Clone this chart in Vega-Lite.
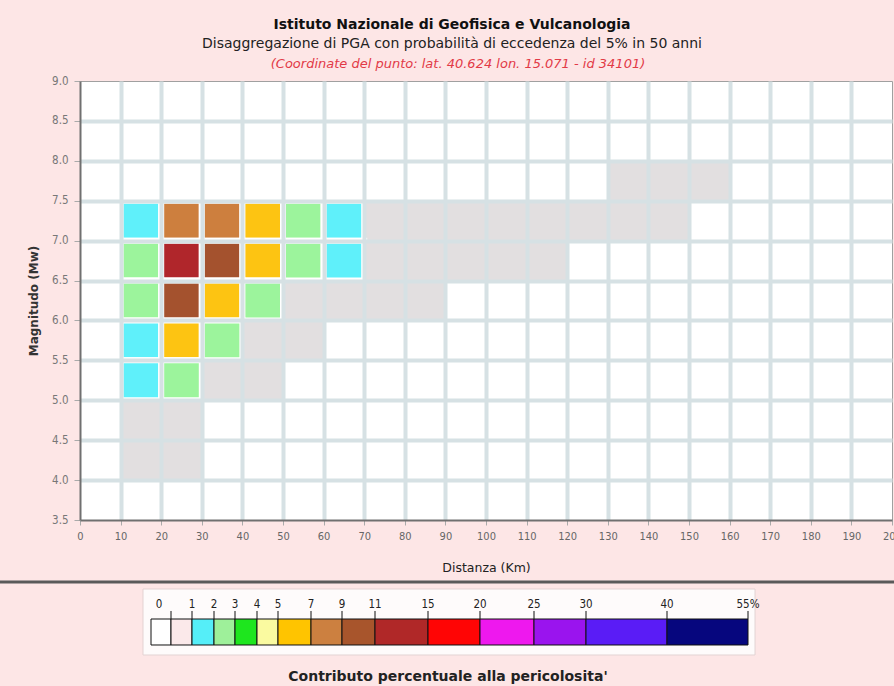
{
  "$schema": "https://vega.github.io/schema/vega-lite/v6.json",
  "autosize": {"type": "none"},
  "padding": {"left": 80, "top": 81, "right": 814, "bottom": 605},
  "background": "#fde6e6",
  "config": {"font": "DejaVu Sans", "view": {"stroke": null}},
  "title": {
    "text": "Istituto Nazionale di Geofisica e Vulcanologia",
    "subtitle": "Disaggregazione di PGA con probabilità di eccedenza del 5% in 50 anni",
    "anchor": "middle", "frame": "group", "dx": -34,
    "font": "DejaVu Sans", "fontSize": 14, "fontWeight": "bold", "color": "#111111",
    "subtitleFont": "DejaVu Sans", "subtitleFontSize": 14, "subtitleColor": "#222222", "subtitlePadding": 5,
    "offset": 7
  },
  "bounds": "flush",
  "spacing": 62,
  "resolve": {"scale": {"color": "independent", "x": "independent", "y": "independent"}},
  "datasets": {
    "cells": [
      {"d": 130, "d2": 140, "m": 7.5, "m2": 8.0, "p": 0.1},
      {"d": 140, "d2": 150, "m": 7.5, "m2": 8.0, "p": 0.1},
      {"d": 150, "d2": 160, "m": 7.5, "m2": 8.0, "p": 0.1},
      {"d": 10, "d2": 20, "m": 7.0, "m2": 7.5, "p": 1.4},
      {"d": 20, "d2": 30, "m": 7.0, "m2": 7.5, "p": 7.3},
      {"d": 30, "d2": 40, "m": 7.0, "m2": 7.5, "p": 7.1},
      {"d": 40, "d2": 50, "m": 7.0, "m2": 7.5, "p": 5.3},
      {"d": 50, "d2": 60, "m": 7.0, "m2": 7.5, "p": 2.2},
      {"d": 60, "d2": 70, "m": 7.0, "m2": 7.5, "p": 1.2},
      {"d": 70, "d2": 80, "m": 7.0, "m2": 7.5, "p": 0.8},
      {"d": 80, "d2": 90, "m": 7.0, "m2": 7.5, "p": 0.7},
      {"d": 90, "d2": 100, "m": 7.0, "m2": 7.5, "p": 0.6},
      {"d": 100, "d2": 110, "m": 7.0, "m2": 7.5, "p": 0.5},
      {"d": 110, "d2": 120, "m": 7.0, "m2": 7.5, "p": 0.4},
      {"d": 120, "d2": 130, "m": 7.0, "m2": 7.5, "p": 0.3},
      {"d": 130, "d2": 140, "m": 7.0, "m2": 7.5, "p": 0.2},
      {"d": 140, "d2": 150, "m": 7.0, "m2": 7.5, "p": 0.1},
      {"d": 10, "d2": 20, "m": 6.5, "m2": 7.0, "p": 2.3},
      {"d": 20, "d2": 30, "m": 6.5, "m2": 7.0, "p": 11.8},
      {"d": 30, "d2": 40, "m": 6.5, "m2": 7.0, "p": 9.4},
      {"d": 40, "d2": 50, "m": 6.5, "m2": 7.0, "p": 5.4},
      {"d": 50, "d2": 60, "m": 6.5, "m2": 7.0, "p": 2.1},
      {"d": 60, "d2": 70, "m": 6.5, "m2": 7.0, "p": 1.1},
      {"d": 70, "d2": 80, "m": 6.5, "m2": 7.0, "p": 0.8},
      {"d": 80, "d2": 90, "m": 6.5, "m2": 7.0, "p": 0.6},
      {"d": 90, "d2": 100, "m": 6.5, "m2": 7.0, "p": 0.4},
      {"d": 100, "d2": 110, "m": 6.5, "m2": 7.0, "p": 0.3},
      {"d": 110, "d2": 120, "m": 6.5, "m2": 7.0, "p": 0.1},
      {"d": 10, "d2": 20, "m": 6.0, "m2": 6.5, "p": 2.1},
      {"d": 20, "d2": 30, "m": 6.0, "m2": 6.5, "p": 9.2},
      {"d": 30, "d2": 40, "m": 6.0, "m2": 6.5, "p": 5.6},
      {"d": 40, "d2": 50, "m": 6.0, "m2": 6.5, "p": 2.0},
      {"d": 50, "d2": 60, "m": 6.0, "m2": 6.5, "p": 0.8},
      {"d": 60, "d2": 70, "m": 6.0, "m2": 6.5, "p": 0.5},
      {"d": 70, "d2": 80, "m": 6.0, "m2": 6.5, "p": 0.3},
      {"d": 80, "d2": 90, "m": 6.0, "m2": 6.5, "p": 0.1},
      {"d": 10, "d2": 20, "m": 5.5, "m2": 6.0, "p": 1.6},
      {"d": 20, "d2": 30, "m": 5.5, "m2": 6.0, "p": 5.1},
      {"d": 30, "d2": 40, "m": 5.5, "m2": 6.0, "p": 2.1},
      {"d": 40, "d2": 50, "m": 5.5, "m2": 6.0, "p": 0.7},
      {"d": 50, "d2": 60, "m": 5.5, "m2": 6.0, "p": 0.3},
      {"d": 10, "d2": 20, "m": 5.0, "m2": 5.5, "p": 1.3},
      {"d": 20, "d2": 30, "m": 5.0, "m2": 5.5, "p": 2.0},
      {"d": 30, "d2": 40, "m": 5.0, "m2": 5.5, "p": 0.6},
      {"d": 40, "d2": 50, "m": 5.0, "m2": 5.5, "p": 0.2},
      {"d": 10, "d2": 20, "m": 4.5, "m2": 5.0, "p": 0.5},
      {"d": 20, "d2": 30, "m": 4.5, "m2": 5.0, "p": 0.3},
      {"d": 10, "d2": 20, "m": 4.0, "m2": 4.5, "p": 0.2},
      {"d": 20, "d2": 30, "m": 4.0, "m2": 4.5, "p": 0.1}
    ],
    "seg": [
      {"lo": -1, "hi": 0, "c": "0"},
      {"lo": 0, "hi": 1, "c": "0-1"},
      {"lo": 1, "hi": 2, "c": "1-2"},
      {"lo": 2, "hi": 3, "c": "2-3"},
      {"lo": 3, "hi": 4, "c": "3-4"},
      {"lo": 4, "hi": 5, "c": "4-5"},
      {"lo": 5, "hi": 7, "c": "5-7"},
      {"lo": 7, "hi": 9, "c": "7-9"},
      {"lo": 9, "hi": 11, "c": "9-11"},
      {"lo": 11, "hi": 15, "c": "11-15"},
      {"lo": 15, "hi": 20, "c": "15-20"},
      {"lo": 20, "hi": 25, "c": "20-25"},
      {"lo": 25, "hi": 30, "c": "25-30"},
      {"lo": 30, "hi": 40, "c": "30-40"},
      {"lo": 40, "hi": 55, "c": "40-55"}
    ],
    "ticks": [
      {"v": 0, "t": "0"}, {"v": 1, "t": "1"}, {"v": 2, "t": "2"}, {"v": 3, "t": "3"},
      {"v": 4, "t": "4"}, {"v": 5, "t": "5"}, {"v": 7, "t": "7"}, {"v": 9, "t": "9"},
      {"v": 11, "t": "11"}, {"v": 15, "t": "15"}, {"v": 20, "t": "20"}, {"v": 25, "t": "25"},
      {"v": 30, "t": "30"}, {"v": 40, "t": "40"}, {"v": 55, "t": "55%"}
    ],
    "one": [{"k": 1}]
  },
  "vconcat": [
    {
      "width": 812,
      "height": 439,
      "view": {"fill": "#ffffff", "stroke": "#a0a0a0", "strokeWidth": 1},
      "title": {
        "text": "(Coordinate del punto: lat. 40.624 lon. 15.071 - id 34101)",
        "color": "#e23a46", "font": "DejaVu Sans", "fontSize": 13, "fontStyle": "italic", "fontWeight": "normal",
        "anchor": "middle", "frame": "group", "dx": -28, "offset": 4
      },
      "data": {"name": "cells"},
      "mark": {"type": "rect", "stroke": "#ffffff"},
      "encoding": {
        "x": {
          "field": "d", "type": "quantitative",
          "scale": {"domain": [0, 200], "nice": false, "zero": false},
          "axis": {
            "values": [0, 10, 20, 30, 40, 50, 60, 70, 80, 90, 100, 110, 120, 130, 140, 150, 160, 170, 180, 190, 200],
            "title": "Distanza (Km)",
            "grid": true, "gridColor": "#d6e1e4", "gridWidth": 4,
            "gridOpacity": {"condition": {"test": "datum.value == 0 || datum.value == 200", "value": 0}, "value": 1},
            "zindex": 1,
            "domainColor": "#707070", "domainWidth": 2,
            "tickColor": "#aaaaaa", "tickSize": 5,
            "labelPadding": 5, "labelFont": "DejaVu Sans Condensed, DejaVu Sans", "labelFontSize": 11, "labelColor": "#666666",
            "labelFlush": false, "labelOverlap": false, "labelBound": false,
            "titleFont": "DejaVu Sans", "titleFontSize": 12.5, "titleFontWeight": "normal", "titleColor": "#222222", "titlePadding": 20
          }
        },
        "x2": {"field": "d2"},
        "y": {
          "field": "m", "type": "quantitative",
          "scale": {"domain": [3.5, 9], "nice": false, "zero": false},
          "axis": {
            "values": [3.5, 4, 4.5, 5, 5.5, 6, 6.5, 7, 7.5, 8, 8.5, 9],
            "format": ".1f",
            "title": "Magnitudo (Mw)",
            "grid": true, "gridColor": "#d6e1e4", "gridWidth": 4,
            "gridOpacity": {"condition": {"test": "datum.value == 3.5 || datum.value == 9", "value": 0}, "value": 1},
            "zindex": 1,
            "domainColor": "#707070", "domainWidth": 2,
            "tickColor": "#aaaaaa", "tickSize": 6,
            "labelPadding": 6, "labelFont": "DejaVu Sans Condensed, DejaVu Sans", "labelFontSize": 11.5, "labelColor": "#777777",
            "labelOverlap": false,
            "titleFont": "DejaVu Sans", "titleFontSize": 12, "titleFontWeight": "bold", "titleColor": "#333333", "titlePadding": 11
          }
        },
        "y2": {"field": "m2"},
        "color": {
          "field": "p", "type": "quantitative",
          "scale": {
            "type": "threshold",
            "domain": [1, 2, 3, 4, 5, 7, 9, 11, 15, 20, 25, 30, 40],
            "range": ["#e2dfe0", "#5ff0fa", "#9cf49c", "#1ee61e", "#fafaa0", "#fdc412", "#cd7f3e", "#a4522e", "#b0262b", "#ff0505", "#ee18ee", "#9a14ee", "#5a1cf6", "#06067e"]
          },
          "legend": null
        },
        "strokeWidth": {"condition": {"test": "datum.p >= 1", "value": 6}, "value": 0}
      }
    },
    {
      "width": 812,
      "height": 73,
      "view": {"stroke": null, "fill": null},
      "title": {
        "text": "Contributo percentuale alla pericolosita'",
        "orient": "bottom", "anchor": "middle", "frame": "group", "dx": -38, "offset": 14,
        "font": "DejaVu Sans", "fontSize": 14, "fontWeight": "bold", "color": "#222222"
      },
      "layer": [
        {
          "data": {"name": "one"},
          "mark": {"type": "rule", "color": "#5a5a5a", "strokeWidth": 3, "clip": false},
          "encoding": {
            "x": {"datum": -12, "type": "quantitative", "axis": null},
            "x2": {"datum": 90},
            "y": {"datum": 1, "type": "quantitative", "axis": null}
          }
        },
        {
          "data": {"name": "one"},
          "mark": {"type": "rect", "fill": "#fefbfb", "stroke": "#e3d3d3", "strokeWidth": 1},
          "encoding": {
            "x": {"datum": -1.4, "type": "quantitative", "axis": null},
            "x2": {"datum": 56.3},
            "y": {"datum": 0.904, "type": "quantitative", "axis": null},
            "y2": {"datum": 0}
          }
        },
        {
          "data": {"name": "seg"},
          "mark": {"type": "rect", "stroke": "#111111", "strokeWidth": 1},
          "encoding": {
            "x": {
              "field": "lo", "type": "quantitative",
              "scale": {
                "domain": [-1, 0, 1, 2, 3, 4, 5, 7, 9, 11, 15, 20, 25, 30, 40, 55],
                "range": [71, 91, 112, 134, 155, 177, 198, 231, 262, 295, 348, 400, 454, 506, 587, 668],
                "nice": false, "zero": false
              },
              "axis": null
            },
            "x2": {"field": "hi"},
            "y": {"datum": 0.493, "type": "quantitative", "scale": {"domain": [0, 1], "nice": false, "zero": false}, "axis": null},
            "y2": {"datum": 0.137},
            "color": {
              "field": "c", "type": "nominal",
              "scale": {
                "domain": ["0", "0-1", "1-2", "2-3", "3-4", "4-5", "5-7", "7-9", "9-11", "11-15", "15-20", "20-25", "25-30", "30-40", "40-55"],
                "range": ["#ffffff", "#fbe9ea", "#55eef8", "#9ef09a", "#1ee61e", "#fafaa0", "#ffc400", "#cc8040", "#a8552c", "#b02828", "#ff0505", "#ee18ee", "#9a14ee", "#5a1cf6", "#06067e"]
              },
              "legend": null
            }
          }
        },
        {
          "data": {"name": "ticks"},
          "mark": {"type": "rule", "color": "#111111", "strokeWidth": 1},
          "encoding": {
            "x": {"field": "v", "type": "quantitative", "axis": null},
            "y": {"datum": 0.603, "type": "quantitative", "axis": null},
            "y2": {"datum": 0.493}
          }
        },
        {
          "data": {"name": "ticks"},
          "transform": [{"filter": "datum.v > 0"}],
          "mark": {"type": "text", "font": "DejaVu Sans Condensed, DejaVu Sans", "fontSize": 11.5, "color": "#222222", "baseline": "middle", "align": "center"},
          "encoding": {
            "x": {"field": "v", "type": "quantitative", "axis": null},
            "y": {"datum": 0.685, "type": "quantitative", "axis": null},
            "text": {"field": "t"}
          }
        },
        {
          "data": {"name": "ticks"},
          "transform": [{"filter": "datum.v == 0"}],
          "mark": {"type": "text", "font": "DejaVu Sans Condensed, DejaVu Sans", "fontSize": 11.5, "color": "#222222", "baseline": "middle", "align": "center", "dx": -12},
          "encoding": {
            "x": {"field": "v", "type": "quantitative", "axis": null},
            "y": {"datum": 0.685, "type": "quantitative", "axis": null},
            "text": {"field": "t"}
          }
        }
      ]
    }
  ]
}
